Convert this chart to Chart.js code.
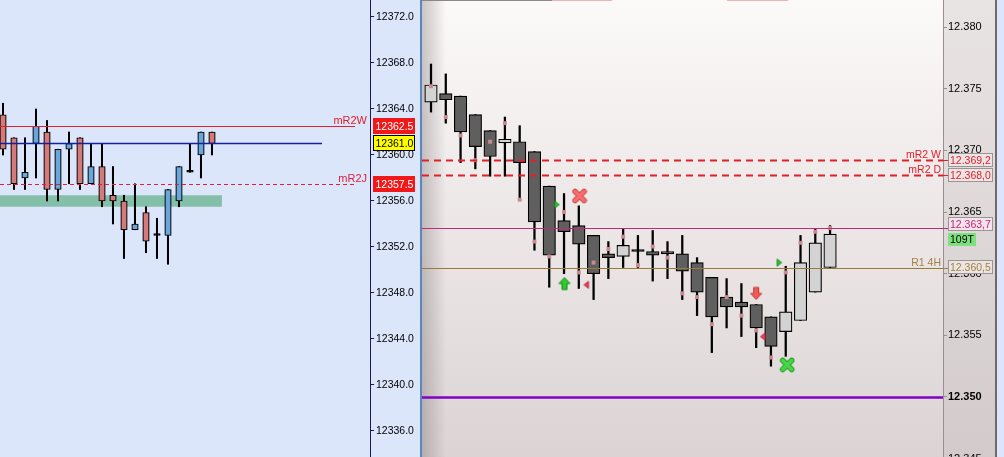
<!DOCTYPE html>
<html>
<head>
<meta charset="utf-8">
<script src="https://cdn.jsdelivr.net/npm/chart.js@4.4.0/dist/chart.umd.min.js"></script>
<style>
  html, body { margin: 0; padding: 0; }
  body { width: 1004px; height: 457px; position: relative; overflow: hidden; background: #dce6fa; }
  .box { position: absolute; top: 0; height: 457px; }
  .strip { position: absolute; }
</style>
</head>
<body>
<div class="box" style="left:0;width:420px"><canvas id="leftChart"></canvas></div>
<div class="strip" style="left:420px;top:0;width:2px;height:457px;background:#5a86c4"></div>
<div class="box" style="left:422px;width:573px"><canvas id="rightChart"></canvas></div>
<div class="strip" style="left:995px;top:0;width:2px;height:457px;background:#6e6a6a"></div>
<div class="strip" style="left:422px;top:0;width:130px;height:1px;background:#8c8686"></div>
<div class="strip" style="left:552px;top:0;width:60px;height:1px;background:#e8b4b4"></div>
<div class="strip" style="left:727px;top:0;width:61px;height:1px;background:#e8b4b4"></div>
<script>
/* left panel data */
const leftTicks = [12372, 12368, 12364, 12360, 12356, 12352, 12348, 12344, 12340, 12336];
const leftOpen  = [12363.5, 12361.5, 12358.0, 12361.0, 12362.0, 12357.0, 12360.5, 12361.5, 12357.5, 12359.0, 12356.5, 12356.0, 12353.5, 12355.0, 12353.0, 12353.0, 12356.0, 12358.5, 12360.0, 12362.0];
const leftHigh  = [12364.5, 12361.5, 12361.5, 12364.0, 12363.0, 12360.5, 12362.0, 12361.5, 12361.0, 12361.0, 12359.0, 12356.5, 12357.5, 12355.5, 12354.5, 12357.0, 12359.0, 12361.0, 12362.0, 12362.0];
const leftLow   = [12360.0, 12357.0, 12357.0, 12358.0, 12356.0, 12356.0, 12357.5, 12357.0, 12357.5, 12355.5, 12354.0, 12351.0, 12353.5, 12351.5, 12351.0, 12350.5, 12355.5, 12358.5, 12358.0, 12360.0];
const leftClose = [12360.5, 12357.5, 12358.5, 12362.5, 12357.0, 12360.5, 12361.0, 12357.5, 12359.0, 12356.0, 12356.0, 12353.5, 12354.0, 12352.5, 12353.0, 12357.0, 12359.0, 12358.5, 12362.0, 12361.0];
const leftLevels = [12362.5, 12361.0, 12357.5];
const leftLevelNames = ['mR2W', '', 'mR2J'];
const leftZone = [12355.5, 12356.5];

/* right panel data */
const rightTicks = [12380, 12375, 12370, 12365, 12360, 12355, 12350, 12345];
const rOpen  = [12373.9, 12374.6, 12374.4, 12372.9, 12371.6, 12370.6, 12370.7, 12369.9, 12367.1, 12364.3, 12363.9, 12363.1, 12361.6, 12361.4, 12361.8, 12361.8, 12361.8, 12361.6, 12360.9, 12359.7, 12358.1, 12357.7, 12357.5, 12356.5, 12355.3, 12356.2, 12358.5, 12360.5];
const rHigh  = [12377.0, 12376.2, 12374.4, 12372.9, 12371.6, 12372.7, 12372.0, 12369.9, 12367.1, 12366.5, 12365.5, 12363.1, 12362.6, 12363.6, 12363.1, 12363.5, 12362.6, 12363.1, 12361.3, 12359.7, 12359.6, 12359.2, 12357.5, 12356.5, 12360.6, 12363.1, 12363.6, 12363.9];
const rLow   = [12373.1, 12372.2, 12369.0, 12368.5, 12367.9, 12367.9, 12366.0, 12361.9, 12358.9, 12360.0, 12358.8, 12357.9, 12359.6, 12360.5, 12360.5, 12359.4, 12359.6, 12357.9, 12356.6, 12353.6, 12355.6, 12354.9, 12354.0, 12352.5, 12353.3, 12356.2, 12358.5, 12360.5];
const rClose = [12375.3, 12374.1, 12371.5, 12370.3, 12369.5, 12370.9, 12369.0, 12364.2, 12361.5, 12363.4, 12362.4, 12360.0, 12361.3, 12362.3, 12361.8, 12361.5, 12361.6, 12360.2, 12358.5, 12356.5, 12357.3, 12357.3, 12355.6, 12354.1, 12356.9, 12360.9, 12362.5, 12363.2];
const rDots  = [12375.2, 12372.7, 12371.2, 12369.2, 12370.7, 12372.2, 12366.0, 12362.6, 12361.4, 12365.0, 12360.1, 12360.9, 12362.0, 12363.0, 12360.7, 12362.2, 12361.3, 12358.4, 12358.1, 12355.9, 12358.1, 12356.6, 12355.4, 12353.2, 12360.1, 12362.5, 12363.4, 12363.7];
const rightLevels = [12369.2, 12368.0, 12363.7, 12360.5, 12350.0];
const rightLevelNames = ['mR2 W', 'mR2 D', '', 'R1 4H', ''];
const barCounter = '109T';

/* signals: [bar index, price] */
const buyArrows = [[9.03, 12359.2]];
const sellArrows = [[22.0, 12358.4]];
const redCrosses = [[10.05, 12366.3]];
const greenCrosses = [[24.1, 12352.6]];
const rightTriangles = [[8.5, 12365.6], [23.55, 12360.9]];
const leftTriangles = [[10.52, 12359.1], [22.46, 12354.9]];

const FONT = '"Liberation Sans", Arial, sans-serif';
Chart.defaults.font.family = FONT;

function fmtDE(v) {
    const parts = v.toFixed(1).split('.');
    return parts[0].slice(0, -3) + '.' + parts[0].slice(-3) + ',' + parts[1];
}

function candleColors(open, close, up, down) {
    return open.map((o, i) => close[i] > o ? up : (close[i] < o ? down : '#000'));
}

function icon(kind, fill, stroke) {
    const c = document.createElement('canvas');
    c.width = 16; c.height = 16;
    const g = c.getContext('2d');
    g.fillStyle = fill; g.strokeStyle = stroke; g.lineWidth = 1;
    g.lineJoin = 'round';
    if (kind === 'x') {
        g.lineCap = 'round';
        g.lineWidth = 5.5; g.beginPath();
        g.moveTo(3.5, 3.5); g.lineTo(12.5, 12.5); g.moveTo(12.5, 3.5); g.lineTo(3.5, 12.5); g.stroke();
        g.strokeStyle = fill; g.lineWidth = 3.5; g.beginPath();
        g.moveTo(3.5, 3.5); g.lineTo(12.5, 12.5); g.moveTo(12.5, 3.5); g.lineTo(3.5, 12.5); g.stroke();
        return c;
    }
    g.beginPath();
    if (kind === 'up') {
        g.moveTo(8, 2); g.lineTo(13.5, 8); g.lineTo(10.5, 8); g.lineTo(10.5, 14); g.lineTo(5.5, 14); g.lineTo(5.5, 8); g.lineTo(2.5, 8);
    } else if (kind === 'down') {
        g.moveTo(8, 14); g.lineTo(13.5, 8); g.lineTo(10.5, 8); g.lineTo(10.5, 2); g.lineTo(5.5, 2); g.lineTo(5.5, 8); g.lineTo(2.5, 8);
    } else if (kind === 'right') {
        g.moveTo(6, 4.5); g.lineTo(10.5, 8); g.lineTo(6, 11.5);
    } else if (kind === 'left') {
        g.moveTo(10, 4.5); g.lineTo(5.5, 8); g.lineTo(10, 11.5);
    }
    g.closePath(); g.fill(); g.stroke();
    return c;
}

function marker(points, style) {
    return {
        type: 'line',
        data: points.map(p => ({x: p[0], y: p[1]})),
        showLine: false,
        pointStyle: style,
        pointRadius: 8,
        order: 0
    };
}

/* left chart */
const leftLineStyles = [
    {color: '#e0202a', width: 1.2, dash: [], end: 32, text: '#e0202a'},
    {color: '#1420a0', width: 1.3, dash: [], end: 29},
    {color: '#e0203a', width: 1.2, dash: [4, 3], end: 32, text: '#e0203a'}
];
const leftBoxStyles = [
    {bg: '#f01818', fg: '#fff'},
    {bg: '#ffff00', fg: '#000', border: '#000'},
    {bg: '#f01818', fg: '#fff'}
];

const leftExtras = {
    id: 'leftExtras',
    beforeDraw(chart) {
        const {ctx, width, height} = chart;
        ctx.save();
        ctx.fillStyle = '#dce6fa';
        ctx.fillRect(0, 0, width, height);
        ctx.restore();
    },
    beforeDatasetsDraw(chart) {
        const {ctx, chartArea: a, scales: {x, y}} = chart;
        const top = y.getPixelForValue(leftZone[1]);
        const bottom = y.getPixelForValue(leftZone[0]);
        ctx.save();
        ctx.fillStyle = '#84bfa9';
        ctx.fillRect(a.left, top, x.getPixelForValue(19.9) - a.left, bottom - top);
        ctx.restore();
    },
    afterDatasetsDraw(chart) {
        const {ctx, chartArea: a, scales: {x, y}} = chart;
        ctx.save();
        leftLevels.forEach((v, k) => {
            const s = leftLineStyles[k];
            const py = Math.round(y.getPixelForValue(v)) + 0.5;
            ctx.strokeStyle = s.color; ctx.lineWidth = s.width; ctx.setLineDash(s.dash);
            ctx.beginPath(); ctx.moveTo(a.left, py); ctx.lineTo(x.getPixelForValue(s.end), py); ctx.stroke();
            if (leftLevelNames[k]) {
                ctx.fillStyle = s.text;
                ctx.font = '11px ' + FONT;
                ctx.textAlign = 'right'; ctx.textBaseline = 'alphabetic';
                ctx.fillText(leftLevelNames[k], a.right - 3, py - 3);
            }
        });
        ctx.restore();
    },
    afterDraw(chart) {
        const {ctx, chartArea: a, scales: {y}} = chart;
        ctx.save();
        leftLevels.forEach((v, k) => {
            const s = leftBoxStyles[k];
            const py = Math.round(y.getPixelForValue(v));
            const bx = a.right + 3, bw = 42, bh = 16;
            ctx.fillStyle = s.bg;
            ctx.fillRect(bx, py - bh / 2, bw, bh);
            if (s.border) {
                ctx.strokeStyle = s.border; ctx.lineWidth = 1;
                ctx.strokeRect(bx + 0.5, py - bh / 2 + 0.5, bw - 1, bh - 1);
            }
            ctx.fillStyle = s.fg;
            ctx.font = '10.5px ' + FONT;
            ctx.textAlign = 'left'; ctx.textBaseline = 'middle';
            ctx.fillText(v.toFixed(1), bx + 2.5, py + 1);
        });
        ctx.restore();
    }
};

new Chart(document.getElementById('leftChart'), {
    type: 'bar',
    data: {
        datasets: [{
            data: leftOpen.map((o, i) => ({x: i, y: [o, leftClose[i]]})),
            backgroundColor: candleColors(leftOpen, leftClose, '#68a6dc', '#d57a7a'),
            borderColor: '#000',
            borderWidth: 1.2,
            borderSkipped: false,
            barThickness: 6.5,
            minBarLength: 2,
            grouped: false,
            order: 1
        }, {
            data: leftOpen.map((o, i) => ({x: i, y: [leftLow[i], leftHigh[i]]})),
            backgroundColor: '#000',
            borderWidth: 0,
            barThickness: 1.4,
            grouped: false,
            order: 2
        }]
    },
    options: {
        responsive: true,
        maintainAspectRatio: false,
        animation: false,
        events: [],
        layout: {padding: 0, autoPadding: false},
        plugins: {legend: {display: false}, tooltip: {enabled: false}},
        scales: {
            x: {type: 'linear', min: -0.2727, max: 33.364, offset: false, display: false},
            y: {
                position: 'right',
                min: 12333.739,
                max: 12373.478,
                afterBuildTicks: s => { s.ticks = leftTicks.map(v => ({value: v})); },
                afterFit: s => { s.width = 50; s.paddingTop = 0; s.paddingBottom = 0; },
                grid: {drawOnChartArea: false, drawTicks: true, tickLength: 4, color: '#1a1a50'},
                border: {color: '#1a1a50', width: 1},
                ticks: {
                    autoSkip: false,
                    padding: 2,
                    color: '#000',
                    font: {size: 10.5},
                    callback: v => Number(v).toFixed(1)
                }
            }
        }
    },
    plugins: [leftExtras]
});

/* right chart */
const rightLineStyles = [
    {color: '#e3202a', width: 2, dash: [7, 5], text: '#e3202a'},
    {color: '#e3202a', width: 2, dash: [7, 5], text: '#e3202a'},
    {color: '#c3287a', width: 1.2, dash: []},
    {color: '#9a7a3a', width: 1.2, dash: [], text: '#a58046'},
    {color: '#8000c8', width: 2.5, dash: []}
];
const rightBoxStyles = [
    {fg: '#e3202a', bg: '#ebe5e5', shift: 0},
    {fg: '#e3202a', bg: '#ebe5e5', shift: 0},
    {fg: '#c3287a', bg: '#f3e3ea', shift: -4},
    {fg: '#a58046', bg: '#ebe5e1', shift: -1}
];

const rightExtras = {
    id: 'rightExtras',
    beforeDraw(chart) {
        const {ctx, chartArea: a, width, height} = chart;
        ctx.save();
        let g = ctx.createLinearGradient(0, 0, 0, height);
        g.addColorStop(0, '#fcf9f9'); g.addColorStop(1, '#dcd4d4');
        ctx.fillStyle = g; ctx.fillRect(a.left, 0, a.right - a.left, height);
        g = ctx.createLinearGradient(0, 0, 0, height);
        g.addColorStop(0, '#e9e4e4'); g.addColorStop(1, '#d3cbcb');
        ctx.fillStyle = g; ctx.fillRect(a.right, 0, width - a.right, height);
        g = ctx.createLinearGradient(a.left, 0, a.left + 24, 0);
        g.addColorStop(0, 'rgba(110,100,100,0.35)'); g.addColorStop(1, 'rgba(110,100,100,0)');
        ctx.fillStyle = g; ctx.fillRect(a.left, 0, 24, height);
        ctx.restore();
    },
    afterDatasetsDraw(chart) {
        const {ctx, chartArea: a, scales: {y}} = chart;
        ctx.save();
        rightLevels.forEach((v, k) => {
            const s = rightLineStyles[k];
            const py = Math.round(y.getPixelForValue(v)) + 0.5;
            ctx.strokeStyle = s.color; ctx.lineWidth = s.width; ctx.setLineDash(s.dash);
            ctx.beginPath(); ctx.moveTo(a.left, py); ctx.lineTo(a.right, py); ctx.stroke();
            if (rightLevelNames[k]) {
                ctx.fillStyle = s.text;
                ctx.font = '10.5px ' + FONT;
                ctx.textAlign = 'right'; ctx.textBaseline = 'alphabetic';
                ctx.fillText(rightLevelNames[k], a.right - 2, py - 3);
            }
        });
        ctx.restore();
    },
    afterDraw(chart) {
        const {ctx, chartArea: a, scales: {y}} = chart;
        ctx.save();
        ctx.font = '10.5px ' + FONT;
        ctx.textAlign = 'left'; ctx.textBaseline = 'middle';
        rightBoxStyles.forEach((s, k) => {
            const v = rightLevels[k];
            const py = Math.round(y.getPixelForValue(v));
            const cy = py + s.shift;
            const bx = a.right + 5, bw = 45, bh = 14;
            ctx.strokeStyle = s.fg; ctx.lineWidth = 1;
            ctx.beginPath(); ctx.moveTo(a.right, py + 0.5); ctx.lineTo(bx, py + 0.5); ctx.stroke();
            ctx.fillStyle = s.bg;
            ctx.fillRect(bx, cy - bh / 2, bw, bh);
            ctx.strokeStyle = '#9c9494';
            ctx.strokeRect(bx + 0.5, cy - bh / 2 + 0.5, bw - 1, bh - 1);
            ctx.fillStyle = s.fg;
            ctx.fillText(fmtDE(v), bx + 2, cy + 1);
        });
        const my = Math.round(y.getPixelForValue(rightLevels[2]));
        ctx.fillStyle = '#7fe07f';
        ctx.fillRect(a.right + 5, my + 5, 28, 13);
        ctx.fillStyle = '#000';
        ctx.fillText(barCounter, a.right + 7, my + 12);
        ctx.restore();
    }
};

new Chart(document.getElementById('rightChart'), {
    type: 'bar',
    data: {
        datasets: [
            marker(buyArrows, icon('up', '#2ccc2c', '#148814')),
            marker(sellArrows, icon('down', '#f25a5a', '#c83030')),
            marker(redCrosses, icon('x', '#f27070', '#d84848')),
            marker(greenCrosses, icon('x', '#46d846', '#23a023')),
            marker(rightTriangles, icon('right', '#30c030', '#1c901c')),
            marker(leftTriangles, icon('left', '#e84058', '#c02840')),
            {
                type: 'line',
                data: rDots.map((v, i) => ({x: i, y: v})),
                showLine: false,
                pointStyle: 'rect',
                pointRadius: 2.8,
                pointBackgroundColor: '#c98a90',
                pointBorderWidth: 0,
                order: 0
            }, {
                data: rOpen.map((o, i) => ({x: i, y: [o, rClose[i]]})),
                backgroundColor: candleColors(rOpen, rClose, '#d3d3d3', '#5f5f5f'),
                borderColor: '#000',
                borderWidth: 1.2,
                borderSkipped: false,
                barThickness: 12.5,
                minBarLength: 2,
                grouped: false,
                order: 1
            }, {
                data: rOpen.map((o, i) => ({x: i, y: [rLow[i], rHigh[i]]})),
                backgroundColor: '#000',
                borderWidth: 0,
                barThickness: 1.6,
                grouped: false,
                order: 2
            }
        ]
    },
    options: {
        responsive: true,
        maintainAspectRatio: false,
        animation: false,
        events: [],
        layout: {padding: 0, autoPadding: false},
        plugins: {legend: {display: false}, tooltip: {enabled: false}},
        scales: {
            x: {type: 'linear', min: -0.609, max: 34.64, offset: false, display: false},
            y: {
                position: 'right',
                min: 12345.135,
                max: 12382.19,
                afterBuildTicks: s => { s.ticks = rightTicks.map(v => ({value: v})); },
                afterFit: s => { s.width = 52; s.paddingTop = 0; s.paddingBottom = 0; },
                grid: {drawOnChartArea: false, drawTicks: true, tickLength: 4, color: '#9a8e8e'},
                border: {color: '#9a8e8e', width: 1},
                ticks: {
                    autoSkip: false,
                    padding: 1,
                    color: '#000',
                    font: c => ({size: 11, weight: c.tick && c.tick.value === 12350 ? 'bold' : 'normal'}),
                    callback: v => (v / 1000).toFixed(3)
                }
            }
        }
    },
    plugins: [rightExtras]
});
</script>
</body>
</html>
